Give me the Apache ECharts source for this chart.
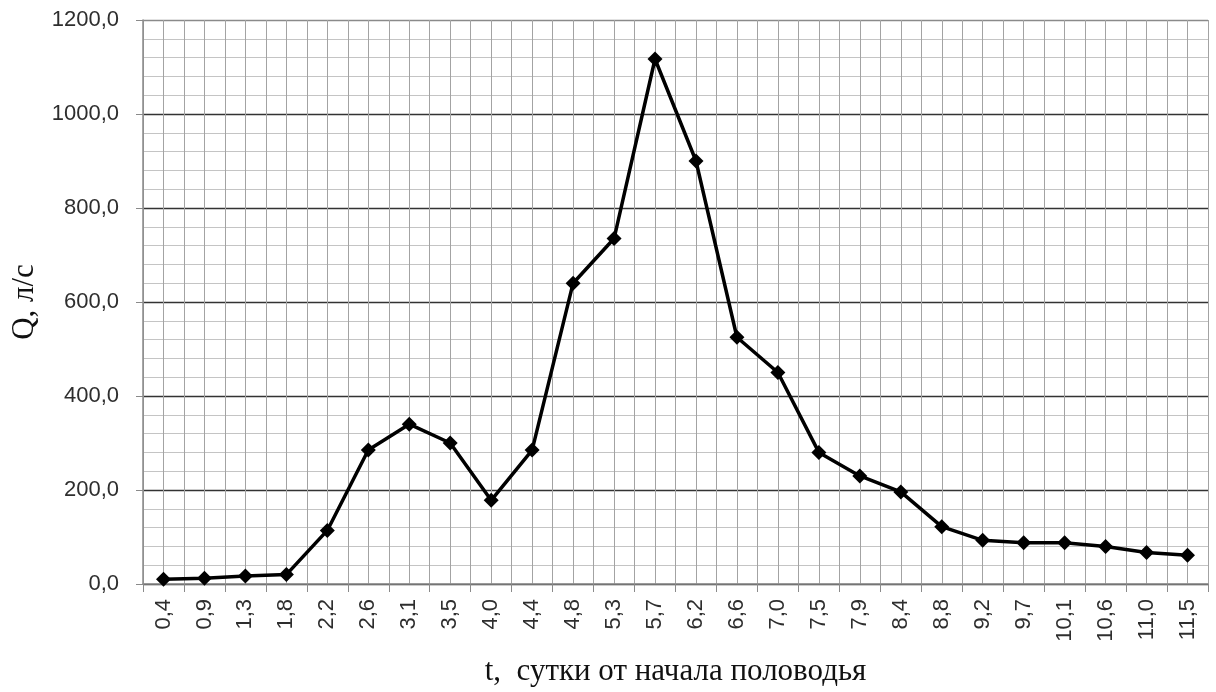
<!DOCTYPE html>
<html>
<head>
<meta charset="utf-8">
<script src="https://cdn.jsdelivr.net/npm/echarts@6/dist/echarts.min.js"></script>
<style>
    html, body { margin: 0; padding: 0; background: #fff; }
    #chart { width: 1216px; height: 692px; }
</style>
</head>
<body>
<div id="chart"></div>
<script>
    // сутки от начала половодья
    let days = ['0,4', '0,9', '1,3', '1,8', '2,2', '2,6', '3,1', '3,5', '4,0', '4,4', '4,8', '5,3', '5,7',
        '6,2', '6,6', '7,0', '7,5', '7,9', '8,4', '8,8', '9,2', '9,7', '10,1', '10,6', '11,0', '11,5']
    // расход, л/с
    let flow = [10, 12, 17, 20, 114, 285, 340, 300, 178, 285, 640, 735, 1117,
        900, 525, 450, 280, 230, 196, 122, 93, 88, 88, 80, 67, 61]

    let mychart = echarts.init(document.getElementById('chart'))
    let option = {
        animation: false,
        grid: {
            left: 143,
            right: 8,
            top: 20,
            bottom: 107
        },
        xAxis: [
            {
                type: 'category',
                data: days,
                boundaryGap: true,
                name: 't,  сутки от начала половодья',
                nameLocation: 'middle',
                nameGap: 72,
                nameTextStyle: {
                    fontFamily: 'Liberation Serif',
                    fontSize: 31,
                    color: '#111'
                },
                axisLine: { lineStyle: { color: '#8a8a8a', width: 1.5 } },
                axisTick: {
                    show: true,
                    interval: 0,
                    length: 8,
                    lineStyle: { color: '#8a8a8a' }
                },
                axisLabel: {
                    interval: 0,
                    rotate: 90,
                    margin: 15,
                    fontFamily: 'Liberation Sans',
                    fontSize: 22,
                    color: '#2e2e2e'
                },
                splitLine: {
                    show: true,
                    interval: 0,
                    lineStyle: { color: '#858585', width: 1 }
                }
            },
            {
                // только вспомогательная сетка по половинам интервалов
                type: 'value',
                min: 0,
                max: 52,
                interval: 1,
                position: 'bottom',
                axisLine: { show: false },
                axisTick: { show: false },
                axisLabel: { show: false },
                splitLine: {
                    show: true,
                    lineStyle: { color: '#a3a3a3', width: 1 }
                }
            }
        ],
        yAxis: {
            type: 'value',
            min: 0,
            max: 1200,
            interval: 200,
            name: 'Q, л/с',
            nameLocation: 'middle',
            nameGap: 98,
            nameTextStyle: {
                fontFamily: 'Liberation Serif',
                fontSize: 31,
                color: '#111'
            },
            axisLine: { show: true, lineStyle: { color: '#8a8a8a', width: 1.5 } },
            axisTick: {
                show: true,
                length: 7,
                lineStyle: { color: '#8a8a8a' }
            },
            minorTick: { show: false, splitNumber: 5 },
            axisLabel: {
                margin: 24,
                fontFamily: 'Liberation Sans',
                fontSize: 22,
                color: '#2e2e2e',
                formatter: function (v) {
                    return v.toFixed(1).replace('.', ',')
                }
            },
            splitLine: {
                show: true,
                lineStyle: {
                    color: ['#333', '#333', '#333', '#333', '#333', '#333', '#8a8a8a'],
                    width: 1.3
                }
            },
            minorSplitLine: {
                show: true,
                lineStyle: { color: '#c4c4c4', width: 1 }
            }
        },
        series: [
            {
                type: 'line',
                data: flow,
                xAxisIndex: 0,
                symbol: 'diamond',
                symbolSize: 15,
                lineStyle: { color: '#000', width: 3.5 },
                itemStyle: { color: '#000' }
            }
        ]
    }
    mychart.setOption(option)
</script>
</body>
</html>
